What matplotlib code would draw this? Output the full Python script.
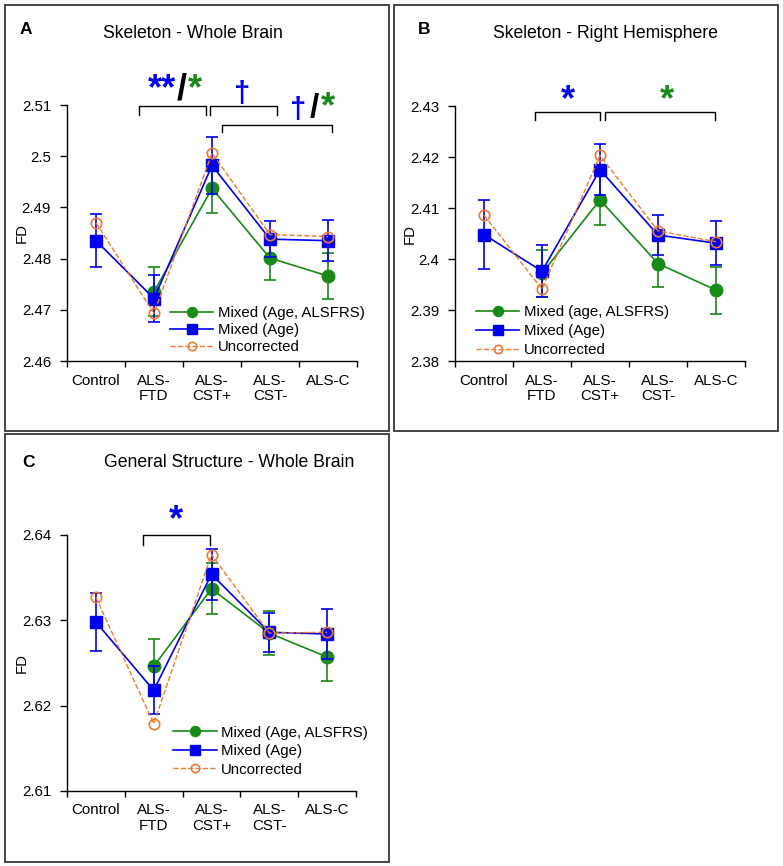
import numpy as np
import matplotlib
matplotlib.use('Agg')
import matplotlib.pyplot as plt
from matplotlib.patches import Rectangle
from matplotlib.ticker import FuncFormatter, FixedLocator

plt.rcParams['font.family'] = ['Liberation Sans', 'DejaVu Sans']

nan = np.nan
categories = ['Control', 'ALS-\nFTD', 'ALS-\nCST+', 'ALS-\nCST-', 'ALS-C']

# Panel A: Skeleton - Whole Brain
green_A = [nan, 2.4735, 2.4937, 2.4801, 2.4766]
green_A_err = [nan, 0.0048, 0.0047, 0.0042, 0.0045]
blue_A = [2.4835, 2.4722, 2.4982, 2.4838, 2.4835]
blue_A_err = [0.0052, 0.0046, 0.0055, 0.0035, 0.0040]
orange_A = [2.4870, 2.4693, 2.5006, 2.4847, 2.4843]
yticks_A = [2.46, 2.47, 2.48, 2.49, 2.50, 2.51]

# Panel B: Skeleton - Right Hemisphere
green_B = [nan, 2.3972, 2.4116, 2.3991, 2.3939]
green_B_err = [nan, 0.0046, 0.0050, 0.0045, 0.0046]
blue_B = [2.4048, 2.3976, 2.4175, 2.4047, 2.4031]
blue_B_err = [0.0067, 0.0051, 0.0050, 0.0040, 0.0043]
orange_B = [2.4086, 2.3941, 2.4203, 2.4055, 2.4034]
yticks_B = [2.38, 2.39, 2.40, 2.41, 2.42, 2.43]

# Panel C: General Structure - Whole Brain
green_C = [nan, 2.6246, 2.6337, 2.6285, 2.6257]
green_C_err = [nan, 0.0032, 0.0030, 0.0026, 0.0028]
blue_C = [2.6298, 2.6218, 2.6354, 2.6286, 2.6284]
blue_C_err = [0.0034, 0.0028, 0.0030, 0.0023, 0.0029]
orange_C = [2.6327, 2.6179, 2.6377, 2.6285, 2.6286]
yticks_C = [2.61, 2.62, 2.63, 2.64]

labels_A = ['Mixed (Age, ALSFRS)', 'Mixed (Age)', 'Uncorrected']
labels_B = ['Mixed (age, ALSFRS)', 'Mixed (Age)', 'Uncorrected']
labels_C = ['Mixed (Age, ALSFRS)', 'Mixed (Age)', 'Uncorrected']

# significance brackets: (x_left, x_right, y_top, y_end)
brackets_A = [(1.74, 2.89, 2.5098, 2.5080), (2.97, 4.12, 2.5098, 2.5080), (3.17, 5.07, 2.5061, 2.5048)]
brackets_B = [(1.88, 3.00, 2.4289, 2.4273), (3.09, 4.99, 2.4289, 2.4273)]
brackets_C = [(1.82, 2.97, 2.6400, 2.6388)]

# significance marks: (x, y_baseline, text, color, size)
marks_A = [(2.13, 2.5111, '**', 'blue', 26), (2.48, 2.5111, '/', 'black', 26), (2.71, 2.5111, '*', 'green', 26),
           (3.52, 2.5105, '\u2020', 'blue', 21),
           (4.48, 2.5075, '\u2020', 'blue', 21), (4.76, 2.5077, '/', 'black', 24), (5.00, 2.5077, '*', 'green', 26)]
marks_B = [(2.45, 2.4292, '*', 'blue', 26), (4.16, 2.4292, '*', 'green', 26)]
marks_C = [(2.39, 2.6406, '*', 'blue', 26)]

GREEN = '#178A17'
BLUE = '#0000F0'
ORANGE = '#EE7A30'
COLORS = {'blue': BLUE, 'green': GREEN, 'black': 'black'}

W, H = 783, 866
fig = plt.figure(figsize=(W / 100, H / 100), dpi=100)


def px_axes(l, t, r, b):
    return fig.add_axes([l / W, 1 - b / H, (r - l) / W, (b - t) / H])


def box(l, t, r, b):
    fig.patches.append(Rectangle((l / W, 1 - b / H), (r - l) / W, (b - t) / H,
                                 transform=fig.transFigure, fill=False,
                                 edgecolor='#444444', linewidth=1.4))


def panel(ax, green, gerr, blue, berr, orange, yticks, labels, brackets, marks, leg_xy, lspace):
    x = np.arange(1, len(categories) + 1)
    ax.errorbar(x, green, yerr=gerr, fmt='none', ecolor=GREEN, elinewidth=1.2,
                capsize=4.5, capthick=1.2, zorder=2)
    lg, = ax.plot(x, green, '-o', color=GREEN, lw=1.2, ms=9, zorder=3)
    ax.errorbar(x, blue, yerr=berr, fmt='none', ecolor=BLUE, elinewidth=1.2,
                capsize=4.5, capthick=1.2, zorder=4)
    lb, = ax.plot(x, blue, '-s', color=BLUE, lw=1.2, ms=9, zorder=5)
    lo, = ax.plot(x, orange, '--o', color=ORANGE, lw=1.0, ms=7.5, mfc='none',
                  mec=ORANGE, mew=1.2, zorder=6)
    ax.set_xlim(0.5, len(categories) + 0.5)
    ax.set_ylim(yticks[0], yticks[-1])
    ax.set_yticks(yticks)
    ax.yaxis.set_major_formatter(FuncFormatter(lambda v, p: '{:g}'.format(round(v, 4))))
    ax.set_xticks(x)
    ax.set_xticklabels(categories, linespacing=1.1)
    ax.xaxis.set_minor_locator(FixedLocator(np.arange(0.5, len(categories) + 1, 1.0)))
    ax.tick_params(axis='x', which='major', length=0, pad=9, labelsize=10.9)
    ax.tick_params(axis='x', which='minor', length=4, width=1.0, direction='out')
    ax.tick_params(axis='y', length=5, width=1.0, direction='out', pad=6.5, labelsize=10.8)
    for s in ['top', 'right']:
        ax.spines[s].set_visible(False)
    for s in ['left', 'bottom']:
        ax.spines[s].set_linewidth(1.0)
    ax.text(-0.155, 0.5, 'FD', rotation=90, ha='center', va='center',
            transform=ax.transAxes, fontsize=10.8)
    for (xl, xr, yt, ye) in brackets:
        ax.plot([xl, xl, xr, xr], [ye, yt, yt, ye], color='black', lw=1.0, clip_on=False)
    for (xm, ym, t, c, s) in marks:
        ax.text(xm, ym, t, color=COLORS[c], fontsize=s, fontweight='bold',
                ha='center', va='baseline', clip_on=False)
    ax.legend([lg, lb, lo], labels, loc='upper left', bbox_to_anchor=leg_xy,
              frameon=False, fontsize=10.8, handlelength=2.9, handletextpad=0.3,
              labelspacing=lspace, borderpad=0, borderaxespad=0, markerscale=0.8)


axA = px_axes(67, 105, 357, 361)
panel(axA, green_A, green_A_err, blue_A, blue_A_err, orange_A, yticks_A, labels_A,
      brackets_A, marks_A, (0.355, 0.215), 0.2)
axB = px_axes(455, 106, 745, 361)
panel(axB, green_B, green_B_err, blue_B, blue_B_err, orange_B, yticks_B, labels_B,
      brackets_B, marks_B, (0.072, 0.218), 0.33)
axC = px_axes(67, 535, 356, 791)
panel(axC, green_C, green_C_err, blue_C, blue_C_err, orange_C, yticks_C, labels_C,
      brackets_C, marks_C, (0.367, 0.255), 0.3)

box(5, 5, 389, 431)
box(394, 5, 778, 431)
box(5, 434, 389, 862)

def ftext(x, y, s, **kw):
    fig.text(x / W, 1 - y / H, s, va='center', **kw)

ftext(20, 29, 'A', fontsize=12.5, fontweight='bold')
ftext(103, 33, 'Skeleton - Whole Brain', fontsize=12.7)
ftext(418, 29, 'B', fontsize=12.5, fontweight='bold')
ftext(493, 33, 'Skeleton - Right Hemisphere', fontsize=12.7)
ftext(22, 463, 'C', fontsize=12.5, fontweight='bold')
ftext(104, 463, 'General Structure - Whole Brain', fontsize=12.7)

fig.savefig('out.png', dpi=100)
